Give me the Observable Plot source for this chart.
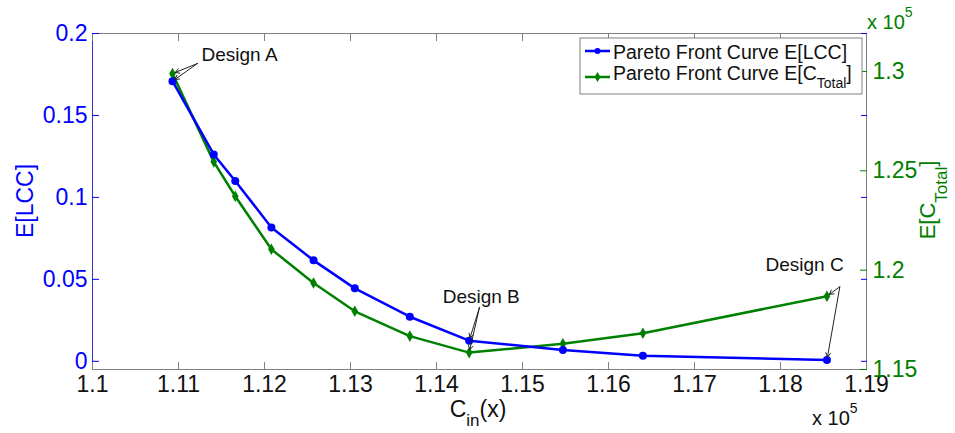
<!DOCTYPE html>
<html><head><meta charset="utf-8">
<script src="https://cdn.jsdelivr.net/npm/d3@7"></script>
<script src="https://cdn.jsdelivr.net/npm/@observablehq/plot@0.6"></script>
<style>body{margin:0;background:#fff;} #chart{width:955px;height:433px;}</style>
</head><body><div id="chart"></div>
<script>
// ---- data (x in units of 1e5, right series in units of 1e5) ----
const cin     = [1.1093, 1.1141, 1.1166, 1.1208, 1.1257, 1.1305, 1.1369, 1.1438, 1.1547, 1.1640, 1.1854];
const eLCC    = [0.1709, 0.1262, 0.1100, 0.0817, 0.0616, 0.0445, 0.0272, 0.0126, 0.0069, 0.0034, 0.0008];
const eCTotal = [1.2989, 1.2545, 1.2372, 1.2105, 1.1935, 1.1793, 1.1668, 1.1585, 1.1630, 1.1682, 1.1869];

const xTicks     = [1.1, 1.11, 1.12, 1.13, 1.14, 1.15, 1.16, 1.17, 1.18, 1.19];
const leftTicks  = [0, 0.05, 0.1, 0.15, 0.2];
const rightTicks = [1.15, 1.2, 1.25, 1.3];

const annLabels = ["Design A", "Design B", "Design C"];
const annIndex  = [0, 7, 10];
const annTextX  = [1.1171, 1.1452, 1.1828];
const annTextY  = [0.1868, 0.0392, 0.0587];
const annTailX  = [1.1122, 1.1450, 1.1869];
const annTailY  = [0.1817, 0.0329, 0.0455];

const legendLabels = ["Pareto Front Curve E[LCC]", "Pareto Front Curve E[C"];

// ---- scales ----
const blue = "#0000ff", green = "#008000", gray = "#808080";
const xDomain = [1.1, 1.19];
const leftDomain = [-0.005, 0.2];
const rightDomain = [1.15, 1.3191];
const toLeft = v => leftDomain[0] + (v - rightDomain[0]) / (rightDomain[1] - rightDomain[0]) * (leftDomain[1] - leftDomain[0]);
const fromLeft = v => rightDomain[0] + (v - leftDomain[0]) / (leftDomain[1] - leftDomain[0]) * (rightDomain[1] - rightDomain[0]);
const fmt = v => String(+v.toFixed(2));

const lcc  = cin.map((x, i) => ({x, y: eLCC[i]}));
const ctot = cin.map((x, i) => ({x, y: toLeft(eCTotal[i])}));
const ann  = annLabels.map((t, j) => ({text: t, x: annTextX[j], y: annTextY[j]}));
const arrows = [];
annIndex.forEach((k, j) => {
  arrows.push({x1: annTailX[j], y1: annTailY[j], x2: cin[k], y2: toLeft(eCTotal[k])});
  arrows.push({x1: annTailX[j], y1: annTailY[j], x2: cin[k], y2: eLCC[k]});
});

const font = "'Liberation Sans', Arial, sans-serif";

const plot = Plot.plot({
  width: 955, height: 433,
  marginLeft: 92, marginRight: 89, marginTop: 33, marginBottom: 64,
  style: {fontFamily: font, background: "#fff", overflow: "visible"},
  x: {domain: xDomain},
  y: {domain: leftDomain},
  marks: [
    Plot.frame({stroke: gray}),
    Plot.ruleX([xDomain[0]], {stroke: blue, strokeOpacity: 0.6}),
    Plot.axisX(xTicks, {anchor: "bottom", tickSize: -7, tickPadding: 13, tickFormat: fmt, fontSize: 23, stroke: gray, fill: "#111", label: null}),
    Plot.axisX(xTicks, {anchor: "top", tickSize: -7, tickFormat: () => "", stroke: gray, label: null}),
    Plot.axisY(leftTicks, {anchor: "left", tickSize: -7, tickPadding: 12, tickFormat: fmt, fontSize: 23, stroke: blue, fill: blue, label: null}),
    Plot.axisY(leftTicks, {anchor: "right", tickSize: -6, tickFormat: () => "", stroke: blue, label: null}),
    Plot.axisY(rightTicks.map(toLeft), {anchor: "right", tickSize: -7, tickPadding: 13, tickFormat: d => fmt(fromLeft(d)), fontSize: 23, stroke: green, fill: green, label: null}),
    Plot.line(ctot, {x: "x", y: "y", stroke: green, strokeWidth: 2.5}),
    Plot.dot(ctot, {x: "x", y: "y", symbol: "diamond", r: 3.5, fill: green}),
    Plot.line(lcc, {x: "x", y: "y", stroke: blue, strokeWidth: 2.5}),
    Plot.dot(lcc, {x: "x", y: "y", r: 4, fill: blue}),
    Plot.arrow(arrows, {x1: "x1", y1: "y1", x2: "x2", y2: "y2", stroke: "#222", strokeWidth: 1, headLength: 7, insetEnd: 3}),
    Plot.text(ann, {x: "x", y: "y", text: "text", fontSize: 19, fill: "#111"})
  ]
});

const svg = d3.select(plot);
const g = svg.append("g").attr("font-family", font).attr("text-anchor", "start");

// y labels
g.append("text").attr("transform", "translate(33,201) rotate(-90)")
  .attr("text-anchor", "middle").attr("font-size", 23).attr("fill", blue).text("E[LCC]");
const yr = g.append("text").attr("transform", "translate(935,200) rotate(-90)")
  .attr("text-anchor", "middle").attr("font-size", 22).attr("fill", green);
yr.append("tspan").text("E[C");
yr.append("tspan").attr("font-size", 17).attr("dy", 12).text("Total");
yr.append("tspan").attr("dy", -12).text("]");

// x label
const xl = g.append("text").attr("x", 478).attr("y", 417).attr("text-anchor", "middle").attr("font-size", 23).attr("fill", "#111");
xl.append("tspan").text("C");
xl.append("tspan").attr("font-size", 17).attr("dy", 9).text("in");
xl.append("tspan").attr("dy", -9).text("(x)");

// exponents
const eb = g.append("text").attr("x", 812).attr("y", 425).attr("font-size", 20).attr("fill", "#111");
eb.append("tspan").text("x 10");
eb.append("tspan").attr("font-size", 14).attr("dy", -12).text("5");
const et = g.append("text").attr("x", 867).attr("y", 29).attr("font-size", 20).attr("fill", green);
et.append("tspan").text("x 10");
et.append("tspan").attr("font-size", 14).attr("dy", -12).text("5");

// legend
const lg = g.append("g");
lg.append("rect").attr("x", 580).attr("y", 38).attr("width", 282).attr("height", 56)
  .attr("fill", "#fff").attr("stroke", gray);
lg.append("line").attr("x1", 585).attr("x2", 610).attr("y1", 51).attr("y2", 51).attr("stroke", blue).attr("stroke-width", 2.5);
lg.append("circle").attr("cx", 597.5).attr("cy", 51).attr("r", 3).attr("fill", blue);
lg.append("text").attr("x", 613).attr("y", 58.5).attr("font-size", 19.5).attr("fill", "#111").text(legendLabels[0]);
lg.append("line").attr("x1", 585).attr("x2", 610).attr("y1", 77).attr("y2", 77).attr("stroke", green).attr("stroke-width", 2.5);
lg.append("path").attr("d", d3.symbol(d3.symbolDiamond, 30)()).attr("transform", "translate(597.5,77)").attr("fill", green);
const l2 = lg.append("text").attr("x", 613).attr("y", 80).attr("font-size", 19.5).attr("fill", "#111");
l2.append("tspan").text(legendLabels[1]);
l2.append("tspan").attr("font-size", 14).attr("dy", 8).text("Total");
l2.append("tspan").attr("dy", -8).text("]");

document.getElementById("chart").appendChild(plot);
</script>
</body></html>
